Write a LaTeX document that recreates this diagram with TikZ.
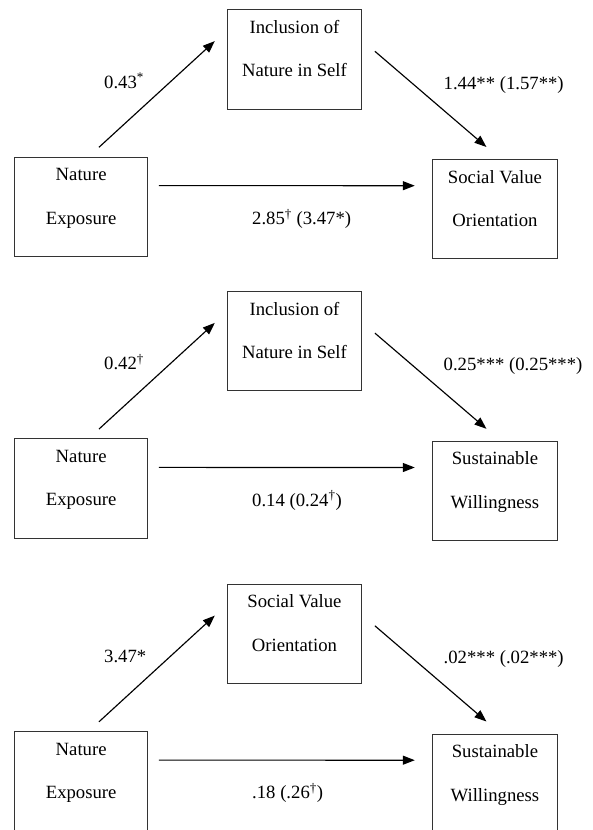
\documentclass[tikz,border=0pt]{standalone}
\usepackage{fontspec}
\setmainfont{Liberation Serif}
\usetikzlibrary{arrows.meta}
\newcommand\fsz{\fontsize{18.7}{22}\selectfont}
\newcommand\sdg{\textsuperscript{\textdagger}}
\newcommand\sst{\textsuperscript{*}}
% #1 vertical offset, #2 suffix, #3/#4 middle box lines, #5/#6 right box lines, #7 left label, #8 right label, #9 bottom label
\newcommand\mypanel[9]{%
  \node[lbox] (ne#2) at (14.4,156.6+#1) {};
  \node[mbox] (md#2) at (227,9.3+#1) {};
  \node[rbox] (rt#2) at (432,159+#1) {};
  \node[ln] (ne#2a) at ([shift={(0,24)}]ne#2.north) {Nature};
  \node[ln] (ne#2b) at ([shift={(0,67.5)}]ne#2.north) {Exposure};
  \node[ln] (md#2a) at ([shift={(0,24)}]md#2.north) {#3};
  \node[ln] (md#2b) at ([shift={(0,67.5)}]md#2.north) {#4};
  \node[ln] (rt#2a) at ([shift={(0,24)}]rt#2.north) {#5};
  \node[ln] (rt#2b) at ([shift={(0,67.5)}]rt#2.north) {#6};
  \draw[arr] ([shift={(17.8,-9.3)}]ne#2.north) -- ([shift={(-12.2,31.8)}]md#2.north west);
  \draw[arr] ([shift={(13,42)}]md#2.north east) -- ([shift={(-8.5,-12)}]rt#2.north);
  \draw[arr] ([shift={(11,29)}]ne#2.north east) -- ([shift={(-17.2,26.7)}]rt#2.north west);
  \node[lab] (lb#2a) at (104,88+#1) {#7};
  \node[lab] (lb#2b) at (443.5,89+#1) {#8};
  \node[lab] (lb#2c) at (252,224.3+#1) {#9};
}
\begin{document}
\begin{tikzpicture}[x=1pt,y=-1pt,
  boxa/.style={draw=black!80, line width=0.9pt, inner sep=0, anchor=north west, minimum height=99.3pt},
  lbox/.style={boxa, minimum width=132.6pt},
  mbox/.style={boxa, minimum width=134pt},
  rbox/.style={boxa, minimum width=125pt},
  ln/.style={font=\fsz, anchor=base, inner sep=0},
  lab/.style={font=\fsz, anchor=base west, inner sep=0},
  arr/.style={line width=1.15pt, -{Triangle[length=12pt,width=9pt]}},
]
\useasboundingbox (0,0) rectangle (593,830);
\mypanel{0}{1}{Inclusion of}{Nature in Self}{Social Value}{Orientation}{0.43\sst}{1.44** (1.57**)}{2.85\sdg{} (3.47*)}
\mypanel{281.8}{2}{Inclusion of}{Nature in Self}{Sustainable}{Willingness}{0.42\sdg}{0.25*** (0.25***)}{0.14 (0.24\sdg)}
\mypanel{574.5}{3}{Social Value}{Orientation}{Sustainable}{Willingness}{3.47*}{.02*** (.02***)}{.18 (.26\sdg)}
\end{tikzpicture}
\end{document}
